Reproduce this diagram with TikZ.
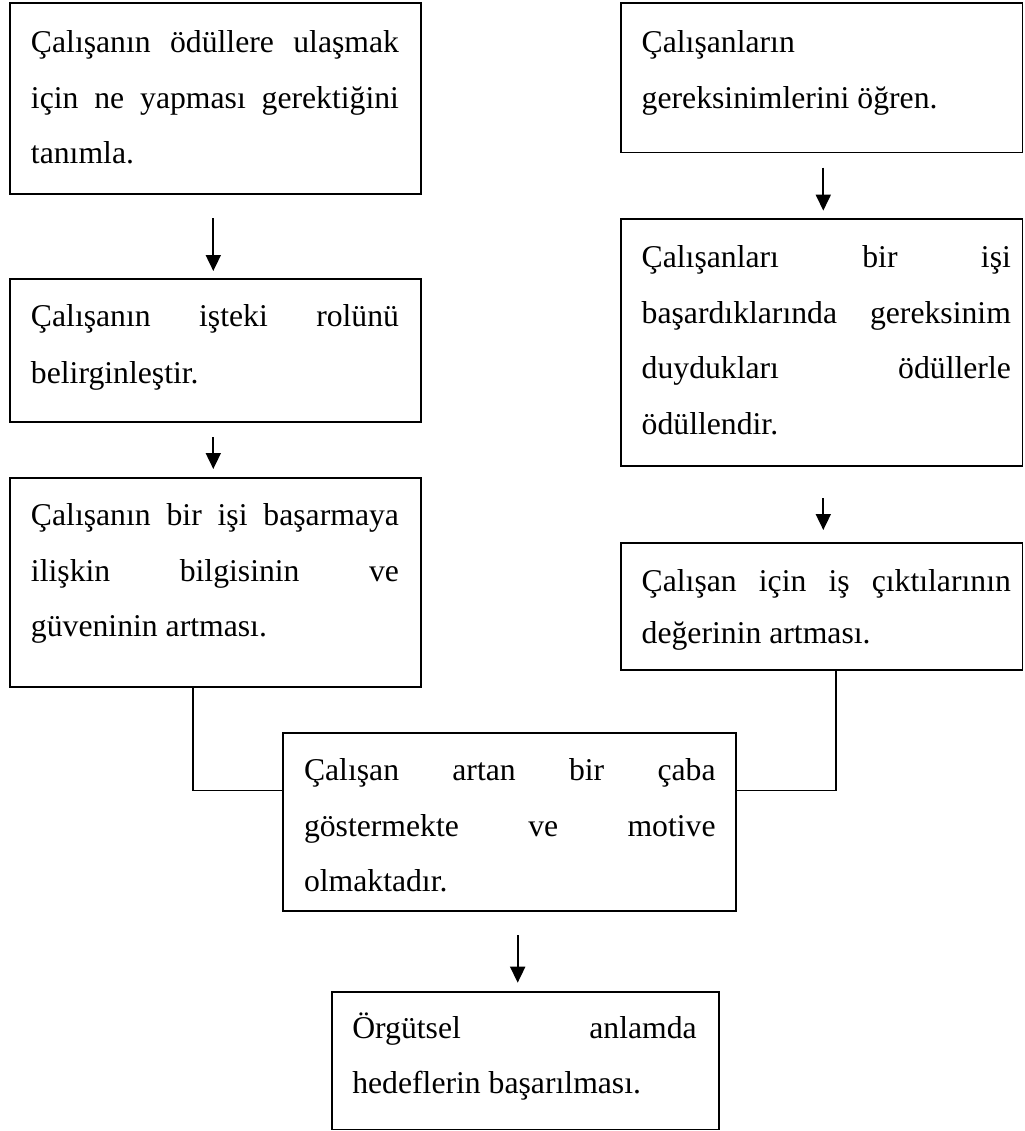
\documentclass[tikz,border=0pt]{standalone}
\usepackage{fontspec}
\setmainfont{Liberation Serif}
\usetikzlibrary{arrows.meta,fit}

% justified box texts: never hyphenate, accept wide interword spaces
\tolerance=10000
\hyphenpenalty=10000
\hbadness=10000

\newcommand\boxfont[1]{\fontsize{15.85pt}{#1}\selectfont}
\newcommand\firststrut{\rule{0pt}{19.4pt}}

\tikzset{
  frame/.style={draw=black, line width=0.9pt, rectangle, inner sep=0pt, outer sep=0pt},
  txt/.style={anchor=north west, inner sep=0pt, outer sep=0pt, align=justify,
              font=\boxfont{27.75pt}},
  arr/.style={draw=black, line width=0.9pt, -{Triangle[width=7.5pt,length=8pt]}},
  link/.style={draw=black, line width=0.9pt},
}

\begin{document}
\begin{tikzpicture}[x=0.5pt, y=-0.5pt]
  \fill[white] (0,0) rectangle (1024,1131);
  \useasboundingbox (0,0) rectangle (1024,1131);
  \clip (0,0) rectangle (1024,1131);

  % left column
  \node (L1) [frame, fit={(10,3) (421,194)}] {};
  \node (L1t) [txt, text width=184pt] at (31,13.9)
    {\firststrut Çalışanın ödüllere ulaşmak\linebreak için ne yapması gerektiğini\linebreak tanımla.};

  \node (L2) [frame, fit={(10,279) (421,422)}] {};
  \node (L2t) [txt, text width=184pt, font=\boxfont{28.5pt}] at (31,287.2)
    {\firststrut Çalışanın işteki rolünü\linebreak belirginleştir.};

  \node (L3) [frame, fit={(10,478) (421,687)}] {};
  \node (L3t) [txt, text width=184pt] at (31,487)
    {\firststrut Çalışanın bir işi başarmaya\linebreak ilişkin bilgisinin ve\linebreak güveninin artması.};

  % right column
  \node (R1) [frame, fit={(620.7,3) (1022.5,152.5)}] {};
  \node (R1t) [txt, text width=184.6pt] at (641.7,13.9)
    {\firststrut Çalışanların\\gereksinimlerini öğren.};

  \node (R2) [frame, fit={(620.7,219) (1022.5,465.7)}] {};
  \node (R2t) [txt, text width=184.6pt] at (641.7,228.9)
    {\firststrut Çalışanları bir işi\linebreak başardıklarında gereksinim\linebreak duydukları ödüllerle\linebreak ödüllendir.};

  \node (R3) [frame, fit={(620.7,543) (1022.5,670)}] {};
  \node (R3t) [txt, text width=184.6pt, font=\boxfont{26pt}] at (641.7,552.2)
    {\firststrut Çalışan için iş çıktılarının\linebreak değerinin artması.};

  % joint result and outcome
  \node (C) [frame, fit={(282.7,733.3) (736,911)}] {};
  \node (Ct) [txt, text width=205.8pt] at (304,741.9)
    {\firststrut Çalışan artan bir çaba\linebreak göstermekte ve motive\linebreak olmaktadır.};

  \node (B) [frame, fit={(331.7,992.3) (719.3,1129.5)}] {};
  \node (Bt) [txt, text width=172.2pt] at (352.3,999.5)
    {\firststrut Örgütsel anlamda\linebreak hedeflerin başarılması.};

  % arrow columns
  \coordinate (colL) at (213.3,0);
  \coordinate (colR) at (823.3,0);
  \coordinate (colC) at (517.7,0);

  \draw[arr, shorten <=12pt, shorten >=4pt]    (L1.south -| colL) -- (L2.north -| colL);
  \draw[arr, shorten <=7.5pt, shorten >=4.5pt] (L2.south -| colL) -- (L3.north -| colL);
  \draw[arr, shorten <=7.5pt, shorten >=4.2pt] (R1.south -| colR) -- (R2.north -| colR);
  \draw[arr, shorten <=16.3pt, shorten >=6.5pt] (R2.south -| colR) -- (R3.north -| colR);
  \draw[arr, shorten <=12pt, shorten >=4.8pt]  (C.south -| colC) -- (B.north -| colC);

  % elbow links into the joint box
  \coordinate (jL) at (193.3,790.5);
  \coordinate (jR) at (836,790.5);
  \draw[link] (L3.south -| jL) |- (C.west |- jL);
  \draw[link] (R3.south -| jR) |- (C.east |- jR);
\end{tikzpicture}
\end{document}
